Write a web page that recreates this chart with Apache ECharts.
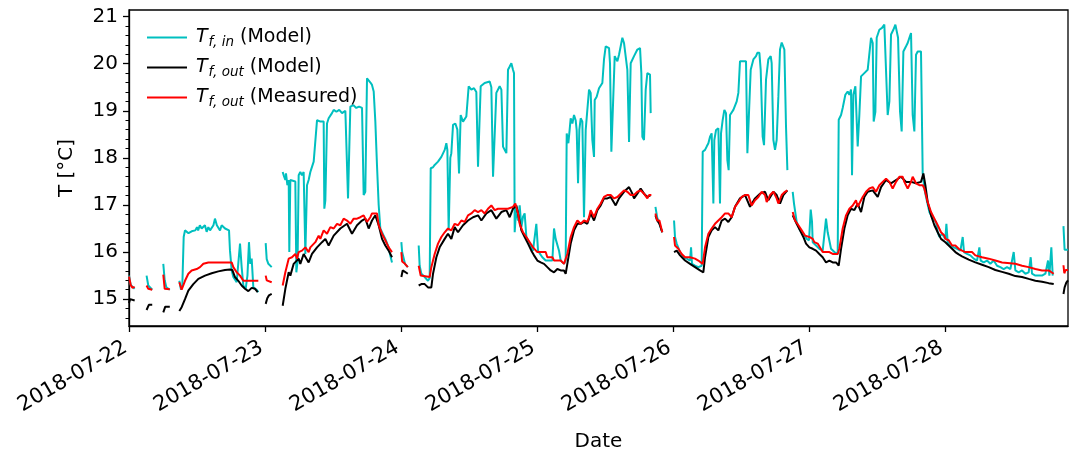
<!DOCTYPE html>
<html>
<head>
<meta charset="utf-8">
<script src="https://cdn.jsdelivr.net/npm/echarts@6/dist/echarts.min.js"></script>
<style>
html,body{margin:0;padding:0;background:#fff;}
#chart{width:1070px;height:454px;}
</style>
</head>
<body>
<div id="chart"></div>
<script>
// hours since 2018-07-22 00:00, temperature in °C ; null = gap in the record
const dateLabels = ['2018-07-22','2018-07-23','2018-07-24','2018-07-25','2018-07-26','2018-07-27','2018-07-28'];
const yTickValues = [15,16,17,18,19,20,21];

const tfInModel = [
[0.0,15.5],[0.3,15.3],[1.0,15.22],null,
[3.1,15.5],[3.4,15.29],[4.1,15.2],null,
[6.05,15.75],[6.3,15.4],[6.6,15.25],[7.2,15.2],null,
[8.88,15.39],[9.18,15.2],[9.41,15.3],[9.65,16.32],[9.88,16.46],[10.2,16.43],[10.5,16.4],[10.8,16.43],[11.06,16.44],[11.4,16.44],[11.7,16.46],[12.0,16.53],[12.2,16.46],[12.5,16.57],[12.82,16.5],[13.1,16.46],[13.4,16.57],[13.7,16.43],[14.0,16.53],[14.3,16.46],[14.6,16.5],[14.9,16.57],[15.17,16.71],[15.5,16.57],[15.75,16.6],[16.06,16.46],[16.35,16.57],[16.65,16.53],[16.95,16.5],[17.25,16.5],[17.65,16.46],[17.82,16.03],[18.12,15.61],[18.41,15.47],[19.0,15.36],[19.3,15.33],[19.59,16.18],[19.88,15.68],[20.18,15.29],[20.59,15.22],[20.9,15.5],[21.17,16.21],[21.4,15.75],[21.65,15.86],[21.94,15.25],[22.53,15.2],[22.82,15.15],null,
[24.12,16.19],[24.3,15.85],[24.59,15.75],[25.18,15.68],null,
[27.12,17.7],[27.3,17.63],[27.59,17.53],[27.7,17.67],[27.95,17.42],[28.18,17.53],[28.29,16.0],[28.47,17.53],[28.76,17.5],[29.35,17.5],[29.53,15.57],[29.75,15.8],[29.94,17.63],[30.23,17.7],[30.53,17.63],[30.82,17.7],[31.12,15.96],[31.41,17.42],[31.7,17.53],[32.0,17.7],[32.29,17.81],[32.59,17.92],[32.88,17.95],[33.18,18.8],[33.47,18.84],[33.8,18.77],[34.1,18.8],[34.35,18.77],[34.47,16.92],[34.65,17.1],[34.94,18.73],[35.23,18.84],[35.5,18.84],[35.82,18.95],[36.12,19.02],[36.6,18.98],[37.1,19.02],[37.6,18.95],[38.18,19.0],[38.45,18.98],[38.65,17.14],[38.85,17.1],[39.06,19.09],[39.6,19.12],[40.1,19.06],[40.6,19.09],[41.12,19.06],[41.41,17.21],[41.7,17.28],[42.0,19.69],[42.29,19.73],[42.6,19.6],[42.88,19.55],[43.18,19.41],[43.47,18.77],[43.76,17.85],[44.06,17.0],[44.35,16.5],[44.65,16.42],[44.94,16.35],[45.23,16.28],[45.82,16.1],[46.1,15.93],[46.41,15.78],null,
[48.06,16.21],[48.2,16.0],[48.7,15.75],[49.2,15.68],null,
[51.12,16.14],[51.29,15.71],[51.59,15.54],[52.18,15.47],[52.76,15.39],[53.06,15.45],[53.24,17.78],[53.65,17.8],[53.94,17.85],[54.53,17.92],[55.12,18.02],[55.71,18.17],[56.0,18.31],[56.18,18.17],[56.41,16.46],[56.7,18.0],[56.88,18.1],[57.18,18.7],[57.59,18.73],[57.94,18.6],[58.24,17.67],[58.53,18.91],[58.94,18.77],[59.53,18.88],[59.94,19.52],[60.41,19.45],[60.88,19.48],[61.29,19.4],[61.59,17.81],[61.88,17.78],[62.06,19.52],[62.76,19.59],[63.06,19.62],[63.65,19.62],[63.94,19.5],[64.24,17.6],[64.53,17.57],[64.82,19.38],[65.41,19.52],[65.71,19.45],[66.0,18.24],[66.29,18.17],[66.59,18.1],[66.88,19.87],[67.18,19.94],[67.47,20.01],[67.76,19.87],[67.94,19.8],[68.06,16.42],[68.35,16.96],[68.65,16.67],[68.94,16.99],[69.24,16.53],[69.53,16.75],[69.82,16.82],[70.12,16.32],[70.71,16.18],[71.29,16.03],[71.88,16.6],[72.18,16.03],[72.53,15.96],[72.94,15.89],[73.53,15.82],[74.12,15.82],[74.71,15.82],[75.0,16.5],[75.29,16.28],[75.59,16.25],[75.88,16.03],[76.18,15.82],[76.76,15.75],[77.06,15.82],[77.24,18.52],[77.53,18.31],[77.76,18.6],[77.94,18.84],[78.24,18.73],[78.53,18.91],[78.82,18.8],[79.0,18.59],[79.24,17.46],[79.47,18.6],[79.71,18.84],[80.0,18.77],[80.29,16.74],[80.59,18.59],[80.88,19.02],[81.18,19.45],[81.47,19.38],[81.76,18.38],[82.06,18.02],[82.18,19.23],[82.53,19.3],[82.94,19.48],[83.53,19.59],[83.82,20.09],[84.12,20.37],[84.71,20.33],[84.88,20.01],[85.12,18.13],[85.47,18.17],[85.71,20.16],[86.18,20.05],[86.47,20.19],[87.06,20.55],[87.35,20.44],[87.65,20.4],[87.94,19.87],[88.24,18.34],[88.53,20.01],[89.12,20.16],[89.71,20.3],[90.18,20.33],[90.41,19.8],[90.59,18.45],[90.88,18.38],[91.18,19.45],[91.47,19.8],[91.76,19.84],[91.94,19.77],[92.06,18.95],null,
[92.9,16.96],[93.2,16.74],[93.6,16.6],[94.1,16.42],null,
[96.18,16.67],[96.35,16.32],[96.65,16.18],[96.94,16.14],[97.24,16.0],[97.82,15.89],[98.41,15.86],[99.0,15.82],[99.18,16.1],[99.35,15.75],[99.88,15.71],[100.47,15.68],[101.06,15.71],[101.24,18.13],[101.65,18.17],[101.94,18.24],[102.24,18.31],[102.53,18.45],[102.82,18.52],[103.12,17.03],[103.29,18.38],[103.59,18.59],[104.0,18.63],[104.29,17.03],[104.47,18.52],[104.76,18.8],[105.06,19.02],[105.35,18.95],[105.59,17.95],[105.82,17.74],[106.06,18.91],[106.65,19.02],[107.24,19.2],[107.53,19.38],[107.82,20.05],[108.88,20.05],[109.12,18.1],[109.47,18.06],[109.71,19.87],[110.18,20.09],[110.65,20.16],[110.88,20.23],[111.24,20.23],[111.47,19.87],[111.82,18.45],[112.06,18.27],[112.41,19.66],[112.82,20.09],[113.24,20.16],[113.41,20.01],[113.71,18.38],[114.0,18.17],[114.29,18.38],[114.59,19.3],[114.88,20.3],[115.18,20.45],[115.47,20.44],[115.65,20.3],[115.94,18.66],[116.18,17.74],null,
[117.12,17.28],[117.35,17.03],[117.53,17.0],[117.82,16.64],[118.12,16.6],[118.41,16.46],[119.0,16.39],[119.59,16.28],[120.0,16.25],[120.3,16.9],[120.53,16.64],[120.65,16.21],[121.24,16.14],[121.82,16.07],[122.41,16.03],[123.0,16.71],[123.29,16.42],[123.59,16.39],[123.88,16.07],[124.47,16.0],[125.06,15.96],[125.24,18.81],[125.65,18.91],[125.94,19.06],[126.41,19.34],[126.82,19.41],[127.12,19.34],[127.41,19.45],[127.59,17.63],[127.82,19.34],[128.18,19.52],[128.41,19.48],[128.59,18.24],[128.88,18.91],[129.18,19.73],[129.47,19.77],[129.76,19.8],[130.06,19.84],[130.35,19.87],[130.65,19.91],[130.94,20.55],[131.24,20.44],[131.41,18.77],[131.71,18.98],[131.94,20.55],[132.41,20.72],[132.88,20.76],[133.29,20.83],[133.59,20.8],[133.88,18.91],[134.18,19.2],[134.47,20.62],[134.88,20.72],[135.24,20.83],[135.47,20.8],[135.71,20.55],[136.06,18.98],[136.35,18.56],[136.65,20.26],[137.12,20.37],[137.41,20.44],[137.71,20.55],[138.0,20.65],[138.29,18.91],[138.59,18.56],[138.88,20.19],[139.18,20.26],[139.76,20.26],[140.06,17.67],[140.35,17.35],[140.65,17.17],[141.24,16.85],[141.82,16.71],[142.41,16.64],[142.71,16.42],[143.0,16.32],[143.47,16.39],[144.06,16.28],[144.24,16.6],[144.47,16.21],[144.94,16.14],[145.53,16.1],[146.12,16.07],[146.71,16.03],[147.12,16.32],[147.35,16.0],[147.88,15.96],[148.47,15.93],[149.06,15.86],[149.65,15.82],[150.06,16.1],[150.29,15.82],[150.82,15.78],[151.41,15.82],[152.0,15.75],[152.59,15.82],[153.18,15.71],[153.76,15.68],[154.35,15.64],[154.94,15.68],[155.53,15.64],[156.12,16.0],[156.41,15.61],[157.0,15.57],[157.59,15.61],[158.18,15.54],[158.76,15.57],[159.12,15.89],[159.35,15.54],[159.94,15.5],[160.53,15.5],[161.12,15.5],[161.71,15.54],[162.18,15.82],[162.41,15.5],[162.76,16.1],[163.0,15.5],null,
[164.9,16.55],[165.1,16.05],[165.7,16.05]
];

const tfOutModel = [
[0.0,14.92],[0.2,15.0],[0.5,14.98],[1.0,14.97],null,
[3.1,14.77],[3.5,14.88],[4.1,14.88],null,
[6.05,14.72],[6.4,14.84],[7.2,14.84],null,
[8.88,14.75],[9.29,14.83],[9.88,15.0],[10.47,15.18],[11.35,15.32],[12.24,15.43],[13.41,15.5],[14.59,15.55],[15.76,15.59],[16.94,15.62],[17.82,15.63],[18.23,15.62],[18.7,15.47],[19.29,15.39],[19.88,15.29],[20.47,15.22],[21.06,15.17],[21.65,15.24],[22.24,15.22],[22.71,15.15],null,
[24.12,14.9],[24.4,15.02],[24.7,15.08],[25.18,15.11],null,
[27.12,14.86],[27.59,15.22],[28.18,15.57],[28.47,15.5],[29.06,15.75],[29.35,15.71],[29.94,15.86],[30.23,15.75],[30.82,15.96],[31.7,15.78],[32.29,15.96],[33.18,16.1],[34.06,16.21],[34.65,16.28],[35.23,16.14],[36.12,16.35],[37.29,16.5],[38.47,16.6],[39.35,16.39],[40.24,16.57],[41.12,16.67],[41.71,16.71],[42.29,16.5],[42.88,16.67],[43.47,16.78],[44.06,16.57],[44.65,16.28],[45.23,16.14],[45.82,16.03],[46.41,15.89],null,
[48.06,15.47],[48.3,15.61],[49.2,15.54],null,
[51.12,15.29],[51.59,15.32],[52.18,15.32],[52.76,15.25],[53.35,15.25],[53.65,15.54],[54.24,15.89],[54.82,16.1],[55.71,16.28],[56.29,16.39],[56.88,16.28],[57.47,16.53],[58.06,16.42],[58.35,16.39],[58.94,16.57],[59.82,16.67],[60.71,16.74],[61.59,16.78],[62.18,16.67],[63.06,16.82],[63.94,16.89],[64.82,16.71],[65.71,16.85],[66.59,16.89],[67.18,16.74],[67.76,16.92],[68.35,16.99],[68.65,16.82],[69.24,16.46],[69.82,16.32],[70.41,16.18],[71.0,16.03],[71.47,15.93],[72.06,15.82],[72.65,15.78],[73.24,15.75],[73.82,15.68],[74.41,15.61],[75.0,15.57],[75.59,15.64],[76.18,15.61],[76.76,15.61],[77.06,15.54],[77.35,15.75],[77.94,16.18],[78.53,16.46],[79.12,16.6],[79.71,16.6],[80.29,16.64],[80.88,16.6],[81.47,16.82],[82.06,16.67],[82.65,16.89],[83.24,16.99],[83.82,17.14],[84.41,17.14],[85.0,17.17],[85.88,16.99],[86.47,17.14],[87.35,17.28],[88.24,17.38],[88.82,17.24],[89.12,17.14],[89.71,17.24],[90.29,17.35],[90.88,17.24],[91.47,17.17],[92.06,17.21],null,
[92.9,16.78],[93.2,16.67],[93.6,16.6],[94.1,16.42],null,
[96.18,16.0],[96.65,16.03],[97.24,15.93],[98.12,15.82],[99.0,15.75],[99.88,15.68],[100.76,15.61],[101.35,15.57],[101.65,15.89],[102.24,16.32],[102.82,16.46],[103.41,16.53],[104.0,16.46],[104.59,16.67],[105.18,16.71],[105.76,16.64],[106.35,16.74],[106.94,16.96],[107.82,17.14],[108.71,17.21],[109.59,16.96],[110.47,17.14],[111.35,17.24],[112.24,17.28],[112.82,17.1],[113.71,17.28],[114.29,17.21],[114.88,17.03],[115.47,17.21],[116.18,17.31],null,
[117.12,16.78],[117.82,16.6],[118.41,16.46],[119.0,16.32],[119.47,16.18],[120.06,16.1],[120.65,16.07],[121.24,16.03],[121.82,15.96],[122.41,15.89],[123.0,15.78],[123.59,15.82],[124.18,15.78],[124.76,15.78],[125.24,15.71],[125.65,16.07],[126.24,16.5],[126.82,16.78],[127.41,16.92],[128.0,16.89],[128.59,17.03],[129.18,16.85],[129.76,17.17],[130.35,17.28],[131.24,17.31],[132.12,17.17],[132.71,17.38],[133.59,17.53],[134.47,17.46],[135.35,17.53],[136.24,17.6],[137.12,17.49],[138.0,17.49],[138.88,17.46],[139.76,17.49],[140.18,17.67],[140.53,17.42],[140.94,17.06],[141.53,16.78],[142.12,16.57],[142.71,16.42],[143.29,16.28],[144.06,16.21],[144.65,16.14],[145.24,16.07],[145.82,16.0],[146.41,15.95],[147.0,15.91],[148.18,15.84],[149.35,15.78],[150.53,15.73],[151.71,15.68],[152.88,15.62],[154.06,15.58],[155.24,15.54],[156.41,15.49],[157.59,15.47],[158.76,15.43],[159.94,15.39],[161.12,15.37],[162.29,15.34],[163.18,15.32],null,
[164.9,15.11],[165.1,15.25],[165.4,15.35],[165.7,15.4]
];

const tfOutMeasured = [
[0.0,15.48],[0.3,15.3],[0.6,15.24],[1.0,15.26],null,
[3.1,15.29],[3.4,15.22],[4.1,15.2],null,
[6.05,15.52],[6.3,15.22],[7.2,15.21],null,
[8.88,15.36],[9.29,15.2],[9.88,15.39],[10.47,15.54],[11.06,15.61],[11.94,15.64],[12.53,15.68],[13.12,15.75],[14.0,15.78],[18.12,15.78],[18.41,15.68],[19.0,15.57],[19.59,15.5],[20.18,15.39],[22.82,15.39],null,
[24.12,15.5],[24.3,15.4],[25.18,15.36],null,
[27.12,15.29],[27.59,15.57],[28.18,15.86],[28.76,15.89],[29.35,15.96],[29.65,15.86],[29.94,16.0],[30.53,16.03],[31.12,16.1],[31.7,16.0],[32.0,16.1],[32.88,16.21],[33.47,16.35],[33.76,16.28],[34.35,16.46],[34.94,16.39],[35.53,16.53],[36.12,16.5],[36.71,16.6],[37.29,16.57],[37.88,16.71],[38.47,16.67],[39.06,16.6],[39.65,16.71],[40.24,16.71],[40.82,16.74],[41.41,16.78],[42.0,16.64],[42.59,16.74],[42.88,16.82],[43.76,16.82],[44.06,16.57],[44.65,16.39],[45.23,16.25],[45.82,16.1],[46.41,16.0],null,
[48.06,16.0],[48.2,15.8],[48.7,15.75],[49.2,15.68],null,
[51.12,15.71],[51.47,15.5],[53.06,15.47],[53.35,15.68],[53.94,15.96],[54.53,16.18],[55.12,16.32],[55.71,16.42],[56.29,16.5],[56.88,16.46],[57.47,16.6],[58.06,16.57],[58.65,16.67],[59.24,16.64],[59.82,16.78],[60.41,16.82],[61.0,16.89],[61.59,16.85],[62.18,16.89],[62.76,16.82],[63.35,16.92],[63.94,16.99],[64.53,16.89],[65.12,16.92],[66.29,16.92],[66.88,16.92],[67.76,16.96],[68.18,17.03],[68.65,16.82],[68.94,16.6],[69.53,16.42],[70.12,16.32],[70.71,16.21],[71.29,16.1],[72.06,16.0],[73.53,16.0],[73.82,15.89],[74.71,15.89],[75.0,15.82],[76.18,15.82],[76.76,15.75],[77.06,15.75],[77.35,15.96],[77.94,16.32],[78.53,16.53],[79.12,16.67],[79.71,16.6],[80.29,16.67],[80.88,16.64],[81.18,16.74],[81.47,16.89],[82.06,16.74],[82.65,16.92],[83.24,17.03],[83.82,17.17],[84.41,17.21],[85.0,17.21],[85.59,17.14],[86.18,17.17],[86.76,17.24],[87.35,17.31],[87.94,17.28],[88.53,17.21],[89.12,17.21],[89.71,17.28],[90.29,17.31],[90.88,17.24],[91.47,17.14],[91.76,17.21],[92.18,17.21],null,
[92.9,16.82],[93.2,16.67],[93.6,16.67],[94.1,16.42],null,
[96.18,16.32],[96.35,16.14],[96.94,16.07],[97.53,15.96],[98.12,15.89],[99.0,15.89],[99.88,15.86],[100.47,15.82],[101.24,15.75],[101.65,16.1],[102.24,16.39],[102.82,16.5],[103.41,16.6],[104.0,16.67],[104.59,16.74],[105.18,16.82],[105.76,16.82],[106.35,16.74],[106.94,16.96],[107.53,17.06],[108.12,17.17],[108.71,17.21],[109.29,17.21],[109.88,16.99],[110.47,17.1],[111.06,17.17],[111.65,17.28],[112.24,17.21],[112.53,17.06],[113.12,17.21],[113.71,17.28],[114.29,17.14],[114.59,17.03],[115.18,17.21],[115.76,17.28],[116.18,17.31],null,
[117.12,16.85],[117.53,16.67],[118.12,16.57],[118.71,16.46],[119.29,16.35],[120.06,16.32],[120.65,16.28],[120.94,16.21],[121.53,16.18],[122.41,16.0],[123.59,16.0],[124.18,15.96],[125.06,15.96],[125.35,16.07],[125.94,16.5],[126.53,16.78],[127.12,16.92],[127.71,16.99],[128.29,17.1],[128.59,16.96],[128.88,17.03],[129.47,17.17],[130.06,17.28],[130.65,17.35],[131.24,17.38],[131.82,17.28],[132.41,17.42],[133.0,17.49],[133.59,17.56],[134.18,17.49],[134.76,17.35],[135.35,17.49],[135.94,17.6],[136.53,17.6],[136.82,17.49],[137.41,17.35],[138.0,17.49],[138.29,17.6],[138.88,17.46],[139.47,17.42],[140.06,17.42],[140.35,17.35],[140.94,17.06],[141.53,16.85],[142.12,16.71],[142.71,16.57],[143.29,16.42],[143.88,16.35],[144.06,16.28],[144.65,16.25],[145.24,16.14],[145.82,16.14],[146.41,16.07],[147.0,16.03],[147.59,16.0],[148.76,16.0],[149.35,15.93],[150.53,15.89],[151.71,15.86],[152.88,15.82],[154.06,15.78],[156.41,15.75],[157.59,15.71],[158.76,15.68],[159.94,15.64],[161.12,15.61],[162.29,15.61],[163.18,15.54],null,
[164.9,15.72],[165.05,15.55],[165.3,15.62],[165.7,15.62]
];

function toSeriesData(arr){
  const out = [];
  let lastH = 0;
  for (const p of arr){
    if (p === null){ out.push([lastH + 0.01, '-']); }
    else { out.push(p); lastH = p[0]; }
  }
  return out;
}

const FONT = 'DejaVu Sans';
const FS = 20;
const majorX = dateLabels.map((d,i)=>i*24);
const minorY = [];
for (let k = 73; k <= 105; k++){ const v = +(k*0.2).toFixed(1); if (Math.abs(v - Math.round(v)) > 1e-6) minorY.push(v); }

const names = ['tin','toutModel','toutMeas'];
const legendText = {
  tin: '{it|T}{sub|f, in} (Model)',
  toutModel: '{it|T}{sub|f, out} (Model)',
  toutMeas: '{it|T}{sub|f, out} (Measured)'
};

const chart = echarts.init(document.getElementById('chart'), null, {renderer:'canvas'});
chart.setOption({
  animation: false,
  backgroundColor: '#fff',
  grid: { left: 129, right: 2, top: 10, bottom: 128, containLabel: false, outerBoundsMode: 'none',
          show: true, borderColor: '#000', borderWidth: 1.3, backgroundColor: 'transparent' },
  legend: {
    orient: 'vertical', left: 142, top: 23, itemWidth: 40, itemHeight: 2, icon: 'rect', itemGap: 9,
    data: names,
    formatter: n => legendText[n],
    textStyle: {
      fontFamily: FONT, fontSize: 19, color: '#000', padding: [0,0,0,4],
      rich: {
        it: { fontFamily: FONT, fontSize: 19, fontStyle: 'italic', color: '#000' },
        sub: { fontFamily: FONT, fontSize: 13.5, fontStyle: 'italic', color: '#000', padding: [9,0,0,1] }
      }
    }
  },
  xAxis: {
    type: 'value', min: 0, max: 165.7,
    name: 'Date', nameLocation: 'middle', nameGap: 106,
    nameTextStyle: { fontFamily: FONT, fontSize: FS, color: '#000' },
    axisLine: { show: true, lineStyle: { color: '#000', width: 1.3 } },
    axisTick: { show: true, length: 6, lineStyle: { color: '#000', width: 1.3 }, customValues: majorX },
    axisLabel: { fontFamily: FONT, fontSize: 21, color: '#000', rotate: 30, margin: 18, padding: [0,4,0,0], customValues: majorX,
      formatter: v => { const i = Math.round(v/24); return (Math.abs(v - i*24) < 1e-6 && dateLabels[i]) ? dateLabels[i] : ''; } },
    splitLine: { show: false }
  },
  yAxis: [{
    type: 'value', min: 14.43, max: 21.14,
    name: 'T [°C]', nameLocation: 'middle', nameGap: 52, nameRotate: 90,
    nameTextStyle: { fontFamily: FONT, fontSize: FS, color: '#000' },
    axisLine: { show: true, lineStyle: { color: '#000', width: 1.3 } },
    axisTick: { show: true, length: 6, lineStyle: { color: '#000', width: 1.3 }, customValues: yTickValues },
    axisLabel: { fontFamily: FONT, fontSize: FS, color: '#000', margin: 11, customValues: yTickValues, formatter: v => String(Math.round(v)) },
    splitLine: { show: false }
  },{
    type: 'value', min: 14.43, max: 21.14, position: 'left', offset: 0,
    axisLine: { show: false },
    axisTick: { show: true, length: 3.5, lineStyle: { color: '#000', width: 1 }, customValues: minorY },
    axisLabel: { show: false },
    splitLine: { show: false }
  }],
  series: [
    { name: 'tin', type: 'line', data: toSeriesData(tfInModel), showSymbol: false, symbol: 'none', connectNulls: false,
      lineStyle: { color: '#00BFBF', width: 2 }, itemStyle: { color: '#00BFBF' }, z: 2 },
    { name: 'toutModel', type: 'line', data: toSeriesData(tfOutModel), showSymbol: false, symbol: 'none', connectNulls: false,
      lineStyle: { color: '#000000', width: 2 }, itemStyle: { color: '#000000' }, z: 3 },
    { name: 'toutMeas', type: 'line', data: toSeriesData(tfOutMeasured), showSymbol: false, symbol: 'none', connectNulls: false,
      lineStyle: { color: '#FF0000', width: 2 }, itemStyle: { color: '#FF0000' }, z: 4 }
  ]
});
</script>
</body>
</html>
